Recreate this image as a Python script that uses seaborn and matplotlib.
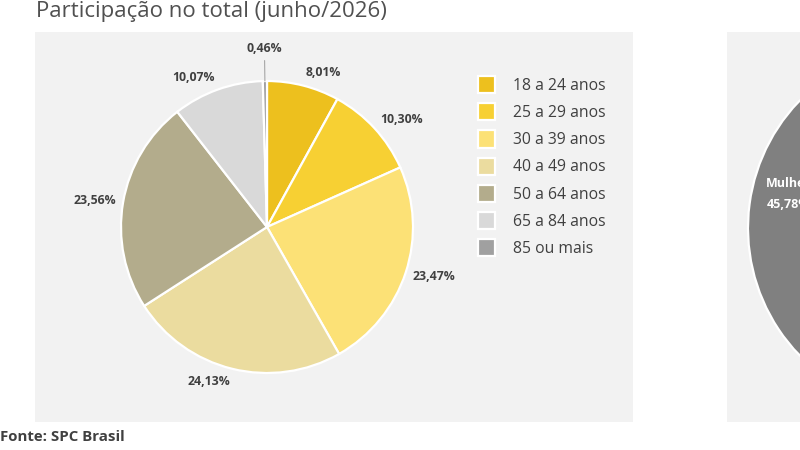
import matplotlib
matplotlib.use("Agg")
import matplotlib.pyplot as plt
import seaborn as sns
import numpy as np
from matplotlib.patches import Rectangle

# ---- data ----
faixas = ["18 a 24 anos", "25 a 29 anos", "30 a 39 anos", "40 a 49 anos",
          "50 a 64 anos", "65 a 84 anos", "85 ou mais"]
participacao = [8.01, 10.30, 23.47, 24.13, 23.56, 10.07, 0.46]
cores = ["#EDC01E", "#F7D033", "#FCE176", "#EBDC9F", "#B3AC8C", "#D9D9D9", "#A0A0A0"]

sexo = ["Mulheres", "Homens"]
participacao_sexo = [45.78, 54.22]
cores_sexo = ["#808080", "#F2C500"]

titulo = "Participação no total (junho/2026)"
fonte = "Fonte: SPC Brasil"

sns.set_theme(style="white")
plt.rcParams["font.family"] = ["Open Sans", "DejaVu Sans"]

W, H = 800, 450
fig = plt.figure(figsize=(8, 4.5), dpi=100)
fig.patch.set_facecolor("white")

def fx(x): return x / W
def fy(y): return 1 - y / H

# panel backgrounds
for (x0, y0, x1, y1) in [(35, 32, 633, 422), (727, 32, 820, 422)]:
    fig.patches.append(Rectangle((fx(x0), fy(y1)), fx(x1) - fx(x0), fy(y0) - fy(y1),
                                 transform=fig.transFigure, facecolor="#F2F2F2",
                                 edgecolor="none", zorder=-5))

# ---- left pie ----
cx, cy, r = 267, 227, 146
ax = fig.add_axes([fx(cx - r), fy(cy + r), 2 * r / W, 2 * r / H])
ax.set_zorder(2)
pal = sns.color_palette(cores)
wedges, _ = ax.pie(participacao, colors=pal, startangle=90, counterclock=False,
                   wedgeprops=dict(edgecolor="white", linewidth=1.6))
ax.set_xlim(-1, 1); ax.set_ylim(-1, 1); ax.set_aspect("equal")
ax.axis("off")

for w, v in zip(wedges, participacao):
    ang = np.deg2rad((w.theta1 + w.theta2) / 2)
    lbl = f"{v:.2f}%".replace(".", ",")
    c, s = np.cos(ang), np.sin(ang)
    if v < 1:
        ax.plot([c * 1.0, c * 1.14], [s * 1.0, s * 1.14],
                color="#A6A6A6", lw=0.8, clip_on=False)
        ax.text(c * 1.22, s * 1.22, lbl, ha="center", va="center",
                fontsize=8.8, fontweight="bold", color="#404040", clip_on=False)
    else:
        ax.text(c * 1.05, s * 1.09, lbl, ha="left" if c > 0 else "right", va="center",
                fontsize=8.8, fontweight="bold", color="#404040", clip_on=False)

leg = fig.legend(wedges, faixas, loc="upper left", bbox_to_anchor=(fx(478), fy(76)),
                 frameon=False, borderaxespad=0, borderpad=0, handlelength=1.1,
                 handleheight=1.3, labelspacing=0.6, handletextpad=1.15,
                 fontsize=11.3, labelcolor="#404040")
leg.set_zorder(3)

# ---- right pie (partially visible) ----
cx2, cy2, r2 = 931, 228, 183
ax2 = fig.add_axes([fx(cx2 - r2), fy(cy2 + r2), 2 * r2 / W, 2 * r2 / H])
ax2.set_zorder(2)
ax2.pie(participacao_sexo, colors=cores_sexo, startangle=90, counterclock=True,
        wedgeprops=dict(edgecolor="white", linewidth=1.6))
ax2.set_xlim(-1, 1); ax2.set_ylim(-1, 1); ax2.set_aspect("equal")
ax2.axis("off")
ax2.text(-0.90, 0.245, sexo[0], ha="left", va="center", fontsize=9,
         fontweight="bold", color="white")
ax2.text(-0.90, 0.13, f"{participacao_sexo[0]:.2f}%".replace(".", ","), ha="left",
         va="center", fontsize=9, fontweight="bold", color="white")

# ---- texts ----
fig.text(fx(36), fy(17), titulo, ha="left", va="baseline", fontsize=16, color="#505050")
fig.text(fx(0), fy(441), fonte, ha="left", va="baseline", fontsize=10.8,
         fontweight="bold", color="#404040")

fig.savefig("out.png", dpi=100, facecolor="white")
